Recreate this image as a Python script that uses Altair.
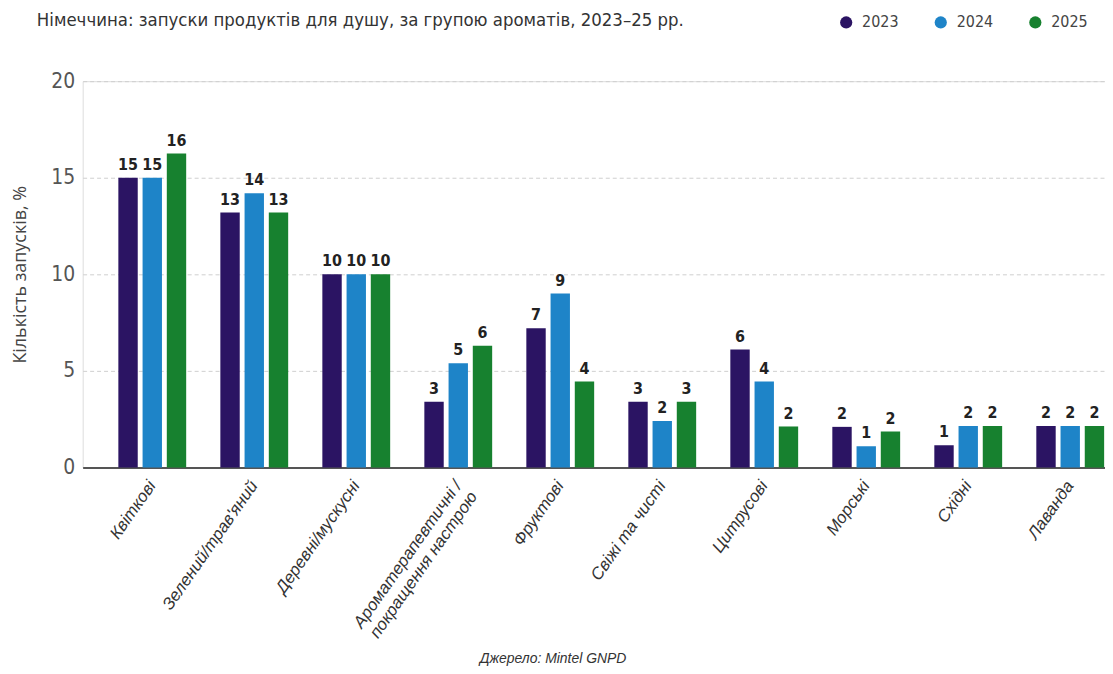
import altair as alt
import pandas as pd

categories = [
    "Квіткові",
    "Зелений/трав'яний",
    "Деревні/мускусні",
    "Ароматерапевтичні /|покращення настрою",
    "Фруктові",
    "Свіжі та чисті",
    "Цитрусові",
    "Морські",
    "Східні",
    "Лаванда",
]
years = ["2023", "2024", "2025"]
v2023 = [15.0, 13.2, 10.0, 3.4, 7.2, 3.4, 6.1, 2.1, 1.15, 2.15]
v2024 = [15.0, 14.2, 10.0, 5.4, 9.0, 2.4, 4.45, 1.1, 2.15, 2.15]
v2025 = [16.25, 13.2, 10.0, 6.3, 4.45, 3.4, 2.12, 1.86, 2.15, 2.15]
colors = ["#2b1463", "#1e84c8", "#17812f"]

rows = []
for series, yr in zip([v2023, v2024, v2025], years):
    for c, v in zip(categories, series):
        rows.append({"group": c, "year": yr, "value": v})
df = pd.DataFrame(rows)

NARROW = "DejaVu Sans Condensed, Liberation Sans Narrow, Roboto"

x = alt.X(
    "group:N",
    sort=categories,
    scale=alt.Scale(paddingInner=0.335, paddingOuter=0.35, range=[0, 1062]),
    axis=alt.Axis(
        title="Джерело: Mintel GNPD",
        titleFont="Liberation Sans, Roboto",
        titleFontStyle="italic",
        titleFontWeight="normal",
        titleFontSize=14,
        titleColor="#333333",
        titleX=472,
        titleY=192,
        titleBaseline="middle",
        labelAngle=-55,
        labelFont="Liberation Sans, Roboto",
        labelFontStyle="italic",
        labelFontSize=17,
        labelColor="#333333",
        labelPadding=15,
        labelLimit=300,
        labelExpr="split(datum.value, '|')",
        ticks=False,
        domainColor="#555555",
        domainWidth=2,
        grid=False,
    ),
)
xo = alt.XOffset("year:N", sort=years, scale=alt.Scale(paddingInner=0.2, paddingOuter=0))
y = alt.Y(
    "value:Q",
    scale=alt.Scale(domain=[0, 20], nice=False),
    axis=alt.Axis(
        title="Кількість запусків, %",
        titleFont="Open Sans, Roboto",
        titleFontSize=18,
        titleFontWeight="normal",
        titleColor="#444444",
        titleX=-62,
        titleBaseline="middle",
        values=[0, 5, 10, 15, 20],
        labelFont=NARROW,
        labelFontSize=21,
        labelColor="#555555",
        labelPadding=8,
        ticks=False,
        domain=False,
        grid=True,
        gridColor="#cfcfcf",
        gridDash=[4, 3],
        gridWidth=1,
    ),
)
color = alt.Color(
    "year:N",
    scale=alt.Scale(domain=years, range=colors),
    legend=alt.Legend(
        title=None,
        orient="none",
        legendX=759,
        legendY=-67,
        direction="horizontal",
        symbolType="circle",
        symbolSize=150,
        symbolStrokeWidth=0,
        labelFont=NARROW,
        labelFontSize=16,
        labelColor="#444444",
        columnPadding=34,
        labelOffset=8,
    ),
)

bars = alt.Chart(df).mark_bar().encode(x=x, xOffset=xo, y=y, color=color)
labels = alt.Chart(df).mark_text(
    baseline="bottom", dy=-5, font=NARROW, fontWeight="bold", fontSize=16, color="#222222"
).encode(x=x, xOffset=xo, y=y, text=alt.Text("value:Q", format=".0f"))

chart = (
    alt.layer(bars, labels)
    .properties(
        width=1027,
        height=388,
        title=alt.Title(
            "Німеччина: запуски продуктів для душу, за групою ароматів, 2023–25 рр.",
            anchor="start",
            frame="group",
            dx=-46,
            dy=15,
            offset=0,
            font=NARROW,
            fontSize=18.5,
            fontWeight="normal",
            color="#333333",
        ),
        autosize=alt.AutoSizeParams(type="none"),
        padding={"left": 75, "top": 72, "right": 0, "bottom": 204},
    )
    .configure_view(stroke=None)
    .configure(background="white")
)

chart.save("out.html", embed_options={"renderer": "svg", "actions": False})
